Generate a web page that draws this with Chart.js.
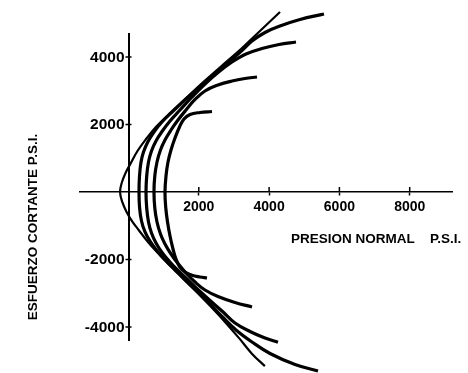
<!DOCTYPE html>
<html>
<head>
<meta charset="utf-8">
<script src="https://cdn.jsdelivr.net/npm/chart.js@4.4.1/dist/chart.umd.min.js"></script>
<style>
  html, body { margin: 0; padding: 0; background: #fff; }
  #wrap { width: 468px; height: 373px; }
</style>
</head>
<body>
<div id="wrap"><canvas id="c" width="468" height="373"></canvas></div>
<script>
// Mohr circle arcs, traced from the upper arc end round the left side to the lower arc end.
// Normal stress (sigma) and shear stress (tau), psi.
const arc1Sigma = [2376, 2034, 1750, 1579, 1451, 1323, 1209, 1124, 1067, 1038, 1061, 1110, 1181, 1266, 1351, 1451, 1607, 1807, 2034, 2233];
const arc1Tau   = [2385, 2356, 2296, 2163, 1926, 1600, 1244, 889, 474, 0, -474, -889, -1304, -1689, -1985, -2207, -2370, -2468, -2519, -2548];

const arc2Sigma = [3656, 3314, 2945, 2546, 2176, 1892, 1636, 1408, 1209, 1038, 910, 811, 748, 725, 748, 811, 910, 1038, 1209, 1408, 1636, 1892, 2176, 2546, 3030, 3514];
const arc2Tau   = [3407, 3363, 3289, 3170, 2993, 2741, 2430, 2133, 1837, 1541, 1244, 889, 474, 0, -474, -889, -1244, -1541, -1837, -2119, -2400, -2667, -2904, -3096, -3274, -3407];

const arc3Sigma = [4765, 4282, 3798, 3343, 2945, 2546, 2176, 1807, 1465, 1181, 953, 782, 654, 569, 518, 498, 518, 569, 654, 782, 953, 1166, 1408, 1693, 2006, 2319, 2660, 3030, 3457, 3883, 4253];
const arc3Tau   = [4445, 4370, 4252, 4089, 3852, 3541, 3200, 2815, 2430, 2104, 1793, 1511, 1215, 889, 474, 0, -474, -889, -1215, -1511, -1793, -2059, -2326, -2607, -2919, -3215, -3526, -3882, -4133, -4326, -4453];

const arc4Sigma = [5562, 4879, 4310, 3883, 3514, 3243, 2660, 2091, 1636, 1209, 939, 725, 555, 427, 356, 313, 299, 316, 370, 469, 626, 825, 1053, 1309, 1593, 1920, 2262, 2660, 3058, 3514, 4026, 4737, 5391];
const arc4Tau   = [5274, 5111, 4919, 4726, 4474, 4207, 3674, 3170, 2756, 2341, 2059, 1778, 1496, 1185, 889, 474, 0, -474, -859, -1185, -1481, -1763, -2030, -2296, -2578, -2904, -3259, -3689, -4089, -4445, -4785, -5111, -5304];

// failure envelope, lower branch through the vertex to the upper branch
const envelopeSigma = [3880, 3510, 3170, 2770, 2380, 1980, 1660, 1370, 1080, 810, 555, 300, 100, -55, -175, -240, -185, -70, 45, 255, 510, 780, 1140, 1595, 2050, 2615, 3215, 3770, 4310];
const envelopeTau   = [-5160, -4790, -4360, -3880, -3440, -3010, -2680, -2370, -2070, -1780, -1480, -1140, -860, -590, -300, 0, 295, 595, 815, 1215, 1585, 1925, 2295, 2740, 3185, 3705, 4250, 4800, 5335];

const xTicks = [2000, 4000, 6000, 8000];
const yTicks = [4000, 2000, -2000, -4000];

const xTitle = 'PRESION NORMAL';
const xUnit = 'P.S.I.';
const yTitle = 'ESFUERZO CORTANTE P.S.I.';

const toPoints = (xs, ys) => xs.map((x, i) => ({ x, y: ys[i] }));

const arcs = [[arc1Sigma, arc1Tau], [arc2Sigma, arc2Tau], [arc3Sigma, arc3Tau], [arc4Sigma, arc4Tau]];
const datasets = arcs.map(([s, t]) => ({
  data: toPoints(s, t),
  showLine: true,
  borderColor: '#000',
  borderWidth: 3.2,
  pointRadius: 0,
  tension: 0.4,
  clip: false
}));
datasets.push({
  data: toPoints(envelopeSigma, envelopeTau),
  showLine: true,
  borderColor: '#000',
  borderWidth: 2.2,
  pointRadius: 0,
  tension: 0.4,
  clip: false
});

const FONT = '"Liberation Sans", Arial, sans-serif';

// cross ticks, vertical-axis labels left of the axis, and the axis titles
const axisDecor = {
  id: 'axisDecor',
  afterDraw(chart) {
    const ctx = chart.ctx;
    const xs = chart.scales.x, ys = chart.scales.y;
    const x0 = xs.getPixelForValue(0), y0 = ys.getPixelForValue(0);
    ctx.save();
    ctx.strokeStyle = '#000';
    ctx.lineWidth = 1.5;
    ctx.beginPath();
    xTicks.forEach(v => {
      const px = xs.getPixelForValue(v);
      ctx.moveTo(px, y0); ctx.lineTo(px, y0 - 5);
    });
    yTicks.forEach(v => {
      const py = ys.getPixelForValue(v);
      ctx.moveTo(x0 - 3, py); ctx.lineTo(x0 + 3, py);
    });
    ctx.stroke();

    ctx.fillStyle = '#000';
    ctx.font = 'bold 15.5px ' + FONT;
    ctx.textAlign = 'right';
    ctx.textBaseline = 'middle';
    yTicks.forEach(v => {
      ctx.fillText(String(v), x0 - 4, ys.getPixelForValue(v) + 0.5);
    });

    ctx.font = 'bold 13.5px ' + FONT;
    ctx.textBaseline = 'alphabetic';
    ctx.textAlign = 'left';
    ctx.fillText(xTitle, 291, 243);
    ctx.fillText(xUnit, 430, 243);

    ctx.translate(37, 227);
    ctx.rotate(-Math.PI / 2);
    ctx.textAlign = 'center';
    ctx.fillText(yTitle, 0, 0);
    ctx.restore();
  }
};

const X0PX = 128.5, XSCALE = 0.03515; // px per psi
const Y0PX = 192, YSCALE = 0.03375;
const areaLeft = 80, areaRight = 452, areaTop = 34, areaBottom = 340;

new Chart(document.getElementById('c'), {
  type: 'scatter',
  data: { datasets },
  options: {
    responsive: false,
    animation: false,
    devicePixelRatio: 1,
    layout: { padding: { left: areaLeft, right: 468 - areaRight, top: areaTop, bottom: 373 - areaBottom } },
    plugins: { legend: { display: false }, tooltip: { enabled: false } },
    scales: {
      x: {
        type: 'linear',
        position: { y: 0 },
        min: (areaLeft - X0PX) / XSCALE,
        max: (areaRight - X0PX) / XSCALE,
        afterBuildTicks: s => { s.ticks = xTicks.map(v => ({ value: v })); },
        grid: { display: true, drawOnChartArea: false, drawTicks: true, tickLength: 3, tickColor: '#000', tickWidth: 1.5 },
        border: { display: true, color: '#000', width: 1.5 },
        ticks: {
          color: '#000', padding: 4, maxRotation: 0, autoSkip: false,
          callback: v => String(v),
          font: { family: FONT, size: 14, weight: 'bold' }
        }
      },
      y: {
        type: 'linear',
        position: { x: 0 },
        min: (Y0PX - areaBottom) / YSCALE,
        max: (Y0PX - areaTop) / YSCALE,
        afterBuildTicks: s => { s.ticks = yTicks.map(v => ({ value: v })); },
        grid: { display: false },
        border: { display: true, color: '#000', width: 2 },
        ticks: { display: false }
      }
    }
  },
  plugins: [axisDecor]
});
</script>
</body>
</html>
